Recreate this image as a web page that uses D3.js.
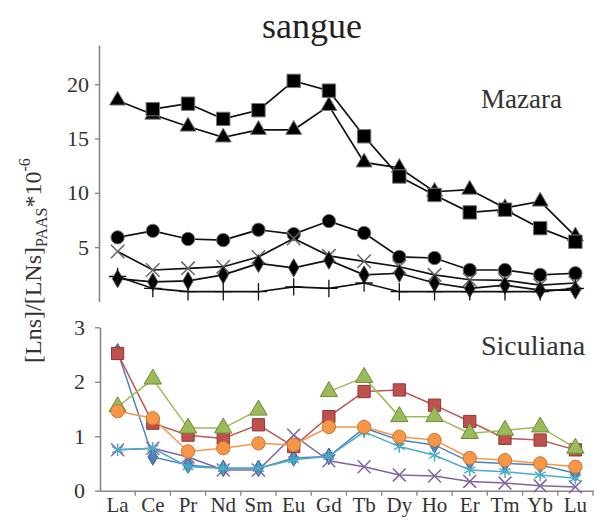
<!DOCTYPE html>
<html>
<head>
<meta charset="utf-8">
<title>sangue</title>
<style>
  body { margin: 0; background: #fff; }
  svg { display: block; }
  svg text { font-family: "Liberation Serif", "Times New Roman", Times, "DejaVu Serif", serif; }
</style>
</head>
<body>
<svg width="605" height="524"></svg>
<script src="https://d3js.org/d3.v7.min.js"></script>
<script>
// categories (rare earth elements)
const elements = ["La","Ce","Pr","Nd","Sm","Eu","Gd","Tb","Dy","Ho","Er","Tm","Yb","Lu"]

// Mazara (top panel), values *10^-6
const mazTriangle = [18.5,17.2,16.1,15.1,15.8,15.8,18.0,12.8,12.3,10.1,10.3,8.6,9.2,6.0]
const mazSquare   = [null,17.7,18.2,16.8,17.6,20.3,19.4,15.2,11.5,9.8,8.2,8.45,6.75,5.5]
const mazCircle   = [5.9,6.5,5.75,5.65,6.6,6.2,7.4,6.3,4.1,4.0,2.9,2.9,2.45,2.6]
const mazCross    = [4.6,2.9,3.05,3.2,4.1,5.8,4.2,3.7,3.2,2.45,2.0,1.95,1.5,1.7]
const mazDiamond  = [2.1,1.8,1.9,2.45,3.5,3.1,3.8,2.45,2.6,1.7,1.2,1.5,1.05,1.05]
const mazPlus     = [2.3,1.2,0.9,0.9,0.9,1.35,1.2,1.7,0.9,0.9,0.9,0.9,0.9,1.2]

// Siculiana (bottom panel)
const sicBlue   = [2.55,0.62,0.47,0.41,0.41,0.6,0.63,1.15,0.93,0.84,0.53,0.5,0.47,0.32]
const sicRed    = [2.52,1.24,1.02,0.96,1.21,0.81,1.36,1.82,1.85,1.57,1.27,0.96,0.93,0.75]
const sicGreen  = [1.54,2.05,1.15,1.15,1.48,null,1.82,2.08,1.36,1.36,1.05,1.11,1.17,0.78]
const sicPurple = [0.75,0.78,0.62,0.38,0.38,1.02,0.55,0.44,0.29,0.27,0.17,0.14,0.09,0.07]
const sicAqua   = [0.75,0.78,0.44,0.41,0.41,0.57,0.63,1.08,0.81,0.65,0.38,0.35,0.29,0.23]
const sicOrange = [1.46,1.33,0.72,0.78,0.87,0.84,1.17,1.17,0.99,0.93,0.6,0.56,0.5,0.44]

const topTicks = [5,10,15,20]
const botTicks = [0,1,2,3]

const svg = d3.select("svg")
const axisColor = "#858585"
const serif = "'Liberation Serif', 'Times New Roman', Times, 'DejaVu Serif', serif"

// scales
const x = d3.scaleBand().domain(elements).range([100, 593])
const cx = d => x(d) + x.bandwidth() / 2
const yTop = d3.scaleLinear().domain([0, 23.6]).range([301.5, 45])
const yBot = d3.scaleLinear().domain([0, 3]).range([490.7, 327.3])

// title
svg.append("text").attr("x", 312).attr("y", 38).attr("text-anchor", "middle")
  .style("font-size", "36px").attr("fill", "#222").text("sangue")

// y axes
function styleAxis(g) {
  g.attr("font-family", serif)
  g.select(".domain").attr("stroke", axisColor).attr("stroke-width", 1.6)
  g.selectAll(".tick line").attr("stroke", axisColor).attr("stroke-width", 1.3)
  g.selectAll("text").attr("fill", "#333").style("font-size", "22px")
}
svg.append("g").attr("transform", "translate(99,0)")
  .call(d3.axisLeft(yTop).tickValues(topTicks).tickFormat(d3.format("d"))
    .tickSize(4).tickSizeOuter(0).tickPadding(6))
  .call(styleAxis)
svg.append("g").attr("transform", "translate(100,0)")
  .call(d3.axisLeft(yBot).tickValues(botTicks).tickFormat(d3.format("d"))
    .tickSize(5).tickSizeOuter(0).tickPadding(10))
  .call(styleAxis)

// x axis (bottom panel), ticks between categories
const xg = svg.append("g").attr("transform", "translate(0,490.7)")
  .call(d3.axisBottom(x).tickSize(0).tickSizeOuter(0))
  .call(styleAxis)
xg.selectAll("text").attr("y", 21).attr("dy", 0).style("font-size", "21px")
xg.selectAll(".bound").data(elements.slice(1).concat(["end"])).enter().append("line")
  .attr("class", "bound")
  .attr("x1", d => d === "end" ? x.range()[1] : x(d))
  .attr("x2", d => d === "end" ? x.range()[1] : x(d))
  .attr("y1", 0).attr("y2", 5)
  .attr("stroke", axisColor).attr("stroke-width", 1.3)

// y label
const yl = svg.append("text").attr("transform", "translate(41,363) rotate(-90)")
  .attr("fill", "#333").style("font-size", "24px")
yl.append("tspan").text("[Lns]/[LNs]")
yl.append("tspan").attr("dy", 6).style("font-size", "16px").text("PAAS")
yl.append("tspan").attr("dy", -6).text("*10")
yl.append("tspan").attr("dy", -11).style("font-size", "16px").text("-6")

// panel labels
svg.append("text").attr("x", 481).attr("y", 108).style("font-size", "27px").attr("fill", "#333").text("Mazara")
svg.append("text").attr("x", 481).attr("y", 355).style("font-size", "28px").attr("fill", "#333").text("Siculiana")

// series drawing
function drawSeries(values, y, opt) {
  const pts = elements.map((e, i) => ({ e: e, v: values[i] }))
  const line = d3.line().defined(d => d.v != null).x(d => cx(d.e)).y(d => y(d.v))
  svg.append("path").datum(pts).attr("d", line)
    .attr("fill", "none").attr("stroke", opt.line).attr("stroke-width", opt.lw || 1.5)
  const sym = d3.symbol().type(opt.type).size(opt.size)
  svg.append("g").selectAll("path").data(pts.filter(d => d.v != null)).enter().append("path")
    .attr("transform", d => "translate(" + cx(d.e) + "," + y(d.v) + ")")
    .attr("d", sym)
    .attr("fill", opt.stroked ? "none" : opt.fill)
    .attr("stroke", opt.stroke)
    .attr("stroke-width", opt.sw || 1)
}

// top panel (black)
drawSeries(mazTriangle, yTop, { type: d3.symbolTriangle, size: 110, fill: "#000", stroke: "#777", line: "#111", lw: 1.7 })
drawSeries(mazSquare, yTop, { type: d3.symbolSquare, size: 180, fill: "#000", stroke: "#777", line: "#111", lw: 1.7 })
drawSeries(mazCircle, yTop, { type: d3.symbolCircle, size: 140, fill: "#000", stroke: "#777", line: "#111", lw: 1.7 })
drawSeries(mazCross, yTop, { type: d3.symbolTimes, size: 120, stroke: "#666", stroked: true, sw: 1.5, line: "#111", lw: 1.7 })
drawSeries(mazDiamond, yTop, { type: d3.symbolDiamond, size: 95, fill: "#000", stroke: "#555", line: "#111", lw: 1.7 })
drawSeries(mazPlus, yTop, { type: d3.symbolPlus, size: 100, stroke: "#111", stroked: true, sw: 1.3, line: "#111", lw: 1.7 })

// bottom panel (colours)
drawSeries(sicBlue, yBot, { type: d3.symbolDiamond, size: 80, fill: "#4F81BD", stroke: "#3A6496", line: "#4F81BD" })
drawSeries(sicRed, yBot, { type: d3.symbolSquare, size: 150, fill: "#C0504D", stroke: "#8C3836", line: "#BE5855" })
drawSeries(sicGreen, yBot, { type: d3.symbolTriangle, size: 130, fill: "#9BBB59", stroke: "#71893F", line: "#9BBB59" })
drawSeries(sicPurple, yBot, { type: d3.symbolTimes, size: 110, stroke: "#8064A2", stroked: true, sw: 1.5, line: "#8064A2" })
drawSeries(sicAqua, yBot, { type: d3.symbolAsterisk, size: 110, stroke: "#4BACC6", stroked: true, sw: 1.5, line: "#4BACC6" })
drawSeries(sicOrange, yBot, { type: d3.symbolCircle, size: 140, fill: "#F79646", stroke: "#C77A38", line: "#F79646" })
</script>
</body>
</html>
